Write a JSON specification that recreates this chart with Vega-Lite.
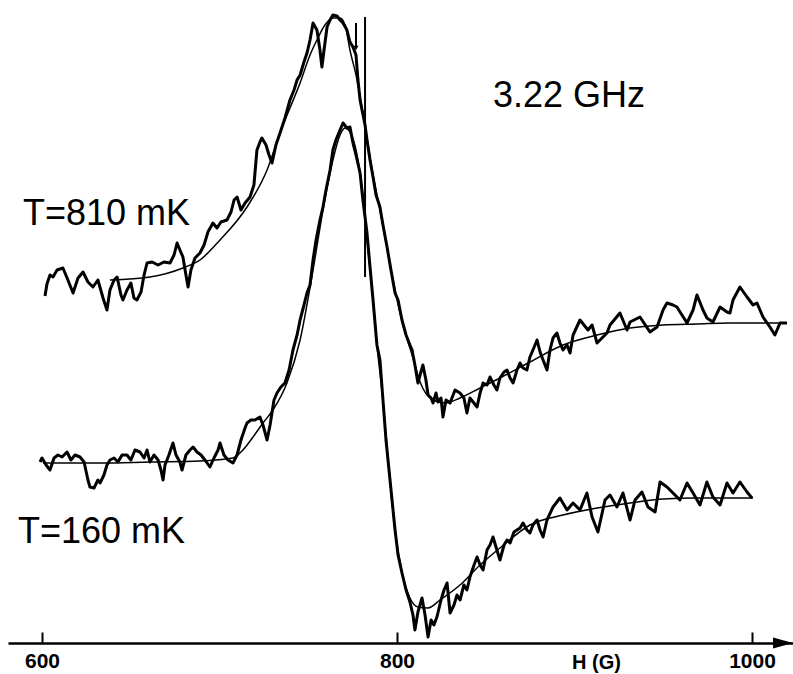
{
  "$schema": "https://vega.github.io/schema/vega-lite/v6.json",
  "width": 785,
  "height": 643,
  "autosize": {"type": "none"},
  "padding": {"left": 8, "right": 0, "top": 0, "bottom": 31},
  "background": "white",
  "config": {"view": {"stroke": null}},
  "datasets": {
    "curves": [
      {"series":"810 mK","kind":"data","H":601.7,"S":3.47},
      {"series":"810 mK","kind":"data","H":602.8,"S":3.59},
      {"series":"810 mK","kind":"data","H":604.5,"S":3.68},
      {"series":"810 mK","kind":"data","H":606.2,"S":3.66},
      {"series":"810 mK","kind":"data","H":608.5,"S":3.73},
      {"series":"810 mK","kind":"data","H":611.8,"S":3.75},
      {"series":"810 mK","kind":"data","H":614.6,"S":3.63},
      {"series":"810 mK","kind":"data","H":617.5,"S":3.50},
      {"series":"810 mK","kind":"data","H":620.3,"S":3.65},
      {"series":"810 mK","kind":"data","H":623.1,"S":3.71},
      {"series":"810 mK","kind":"data","H":625.9,"S":3.61},
      {"series":"810 mK","kind":"data","H":628.7,"S":3.56},
      {"series":"810 mK","kind":"data","H":631.5,"S":3.63},
      {"series":"810 mK","kind":"data","H":634.4,"S":3.45},
      {"series":"810 mK","kind":"data","H":636.6,"S":3.33},
      {"series":"810 mK","kind":"data","H":638.3,"S":3.53},
      {"series":"810 mK","kind":"data","H":640.6,"S":3.63},
      {"series":"810 mK","kind":"data","H":642.3,"S":3.66},
      {"series":"810 mK","kind":"data","H":644.5,"S":3.48},
      {"series":"810 mK","kind":"data","H":645.6,"S":3.43},
      {"series":"810 mK","kind":"data","H":647.9,"S":3.53},
      {"series":"810 mK","kind":"data","H":650.1,"S":3.60},
      {"series":"810 mK","kind":"data","H":651.8,"S":3.45},
      {"series":"810 mK","kind":"data","H":653.5,"S":3.43},
      {"series":"810 mK","kind":"data","H":655.8,"S":3.51},
      {"series":"810 mK","kind":"data","H":657.5,"S":3.68},
      {"series":"810 mK","kind":"data","H":659.2,"S":3.80},
      {"series":"810 mK","kind":"data","H":662.0,"S":3.81},
      {"series":"810 mK","kind":"data","H":665.4,"S":3.78},
      {"series":"810 mK","kind":"data","H":668.7,"S":3.81},
      {"series":"810 mK","kind":"data","H":672.1,"S":3.80},
      {"series":"810 mK","kind":"data","H":674.4,"S":3.88},
      {"series":"810 mK","kind":"data","H":676.1,"S":4.00},
      {"series":"810 mK","kind":"data","H":677.7,"S":3.93},
      {"series":"810 mK","kind":"data","H":679.4,"S":3.86},
      {"series":"810 mK","kind":"data","H":681.1,"S":3.68},
      {"series":"810 mK","kind":"data","H":682.3,"S":3.56},
      {"series":"810 mK","kind":"data","H":683.9,"S":3.73},
      {"series":"810 mK","kind":"data","H":686.2,"S":3.85},
      {"series":"810 mK","kind":"data","H":689.0,"S":3.90},
      {"series":"810 mK","kind":"data","H":691.3,"S":3.98},
      {"series":"810 mK","kind":"data","H":693.5,"S":4.11},
      {"series":"810 mK","kind":"data","H":696.3,"S":4.20},
      {"series":"810 mK","kind":"data","H":698.6,"S":4.15},
      {"series":"810 mK","kind":"data","H":700.8,"S":4.21},
      {"series":"810 mK","kind":"data","H":704.2,"S":4.23},
      {"series":"810 mK","kind":"data","H":706.5,"S":4.31},
      {"series":"810 mK","kind":"data","H":708.2,"S":4.43},
      {"series":"810 mK","kind":"data","H":709.9,"S":4.46},
      {"series":"810 mK","kind":"data","H":712.1,"S":4.33},
      {"series":"810 mK","kind":"data","H":714.4,"S":4.40},
      {"series":"810 mK","kind":"data","H":717.2,"S":4.46},
      {"series":"810 mK","kind":"data","H":719.4,"S":4.58},
      {"series":"810 mK","kind":"data","H":721.1,"S":4.93},
      {"series":"810 mK","kind":"data","H":722.8,"S":5.01},
      {"series":"810 mK","kind":"data","H":723.9,"S":5.05},
      {"series":"810 mK","kind":"data","H":726.2,"S":4.98},
      {"series":"810 mK","kind":"data","H":727.9,"S":4.88},
      {"series":"810 mK","kind":"data","H":729.6,"S":4.80},
      {"series":"810 mK","kind":"data","H":731.8,"S":4.98},
      {"series":"810 mK","kind":"data","H":734.1,"S":5.10},
      {"series":"810 mK","kind":"data","H":736.9,"S":5.25},
      {"series":"810 mK","kind":"data","H":739.7,"S":5.43},
      {"series":"810 mK","kind":"data","H":742.0,"S":5.53},
      {"series":"810 mK","kind":"data","H":743.7,"S":5.63},
      {"series":"810 mK","kind":"data","H":745.4,"S":5.68},
      {"series":"810 mK","kind":"data","H":747.6,"S":5.81},
      {"series":"810 mK","kind":"data","H":749.3,"S":5.90},
      {"series":"810 mK","kind":"data","H":751.0,"S":6.03},
      {"series":"810 mK","kind":"data","H":752.7,"S":6.20},
      {"series":"810 mK","kind":"data","H":754.9,"S":6.13},
      {"series":"810 mK","kind":"data","H":756.6,"S":5.93},
      {"series":"810 mK","kind":"data","H":757.7,"S":5.76},
      {"series":"810 mK","kind":"data","H":758.9,"S":5.93},
      {"series":"810 mK","kind":"data","H":760.6,"S":6.16},
      {"series":"810 mK","kind":"data","H":762.3,"S":6.23},
      {"series":"810 mK","kind":"data","H":763.9,"S":6.28},
      {"series":"810 mK","kind":"data","H":766.2,"S":6.27},
      {"series":"810 mK","kind":"data","H":767.9,"S":6.23},
      {"series":"810 mK","kind":"data","H":769.6,"S":6.20},
      {"series":"810 mK","kind":"data","H":771.8,"S":6.13},
      {"series":"810 mK","kind":"data","H":773.5,"S":6.01},
      {"series":"810 mK","kind":"data","H":775.2,"S":5.96},
      {"series":"810 mK","kind":"data","H":776.9,"S":5.88},
      {"series":"810 mK","kind":"data","H":778.0,"S":5.63},
      {"series":"810 mK","kind":"data","H":779.2,"S":5.43},
      {"series":"810 mK","kind":"data","H":780.3,"S":5.33},
      {"series":"810 mK","kind":"data","H":782.0,"S":5.18},
      {"series":"810 mK","kind":"data","H":783.1,"S":5.03},
      {"series":"810 mK","kind":"data","H":784.8,"S":4.83},
      {"series":"810 mK","kind":"data","H":786.5,"S":4.66},
      {"series":"810 mK","kind":"data","H":788.2,"S":4.48},
      {"series":"810 mK","kind":"data","H":790.4,"S":4.36},
      {"series":"810 mK","kind":"data","H":792.1,"S":4.18},
      {"series":"810 mK","kind":"data","H":794.4,"S":3.96},
      {"series":"810 mK","kind":"data","H":796.6,"S":3.73},
      {"series":"810 mK","kind":"data","H":798.9,"S":3.50},
      {"series":"810 mK","kind":"data","H":800.6,"S":3.43},
      {"series":"810 mK","kind":"data","H":802.8,"S":3.23},
      {"series":"810 mK","kind":"data","H":805.1,"S":3.08},
      {"series":"810 mK","kind":"data","H":807.3,"S":2.98},
      {"series":"810 mK","kind":"data","H":808.5,"S":2.93},
      {"series":"810 mK","kind":"data","H":810.1,"S":2.78},
      {"series":"810 mK","kind":"data","H":811.8,"S":2.60},
      {"series":"810 mK","kind":"data","H":813.0,"S":2.68},
      {"series":"810 mK","kind":"data","H":814.6,"S":2.78},
      {"series":"810 mK","kind":"data","H":816.3,"S":2.63},
      {"series":"810 mK","kind":"data","H":817.5,"S":2.48},
      {"series":"810 mK","kind":"data","H":819.2,"S":2.45},
      {"series":"810 mK","kind":"data","H":820.3,"S":2.40},
      {"series":"810 mK","kind":"data","H":822.0,"S":2.50},
      {"series":"810 mK","kind":"data","H":823.1,"S":2.41},
      {"series":"810 mK","kind":"data","H":824.8,"S":2.45},
      {"series":"810 mK","kind":"data","H":825.9,"S":2.26},
      {"series":"810 mK","kind":"data","H":827.6,"S":2.43},
      {"series":"810 mK","kind":"data","H":829.9,"S":2.40},
      {"series":"810 mK","kind":"data","H":832.7,"S":2.53},
      {"series":"810 mK","kind":"data","H":835.5,"S":2.50},
      {"series":"810 mK","kind":"data","H":837.7,"S":2.45},
      {"series":"810 mK","kind":"data","H":839.4,"S":2.30},
      {"series":"810 mK","kind":"data","H":841.1,"S":2.45},
      {"series":"810 mK","kind":"data","H":845.1,"S":2.36},
      {"series":"810 mK","kind":"data","H":846.8,"S":2.50},
      {"series":"810 mK","kind":"data","H":848.5,"S":2.60},
      {"series":"810 mK","kind":"data","H":850.7,"S":2.58},
      {"series":"810 mK","kind":"data","H":852.4,"S":2.66},
      {"series":"810 mK","kind":"data","H":854.6,"S":2.58},
      {"series":"810 mK","kind":"data","H":856.3,"S":2.53},
      {"series":"810 mK","kind":"data","H":858.0,"S":2.65},
      {"series":"810 mK","kind":"data","H":860.3,"S":2.71},
      {"series":"810 mK","kind":"data","H":862.0,"S":2.73},
      {"series":"810 mK","kind":"data","H":863.7,"S":2.65},
      {"series":"810 mK","kind":"data","H":865.4,"S":2.60},
      {"series":"810 mK","kind":"data","H":867.6,"S":2.73},
      {"series":"810 mK","kind":"data","H":869.3,"S":2.80},
      {"series":"810 mK","kind":"data","H":871.0,"S":2.75},
      {"series":"810 mK","kind":"data","H":873.2,"S":2.73},
      {"series":"810 mK","kind":"data","H":874.9,"S":2.86},
      {"series":"810 mK","kind":"data","H":876.6,"S":2.93},
      {"series":"810 mK","kind":"data","H":878.9,"S":3.03},
      {"series":"810 mK","kind":"data","H":880.6,"S":2.91},
      {"series":"810 mK","kind":"data","H":882.3,"S":2.83},
      {"series":"810 mK","kind":"data","H":884.5,"S":2.73},
      {"series":"810 mK","kind":"data","H":886.2,"S":2.93},
      {"series":"810 mK","kind":"data","H":887.9,"S":3.05},
      {"series":"810 mK","kind":"data","H":890.1,"S":3.10},
      {"series":"810 mK","kind":"data","H":891.8,"S":3.00},
      {"series":"810 mK","kind":"data","H":893.5,"S":2.93},
      {"series":"810 mK","kind":"data","H":895.8,"S":2.98},
      {"series":"810 mK","kind":"data","H":897.5,"S":2.90},
      {"series":"810 mK","kind":"data","H":899.2,"S":3.08},
      {"series":"810 mK","kind":"data","H":903.1,"S":3.23},
      {"series":"810 mK","kind":"data","H":907.6,"S":3.13},
      {"series":"810 mK","kind":"data","H":909.9,"S":3.18},
      {"series":"810 mK","kind":"data","H":912.7,"S":3.00},
      {"series":"810 mK","kind":"data","H":918.3,"S":3.10},
      {"series":"810 mK","kind":"data","H":920.0,"S":3.18},
      {"series":"810 mK","kind":"data","H":925.6,"S":3.30},
      {"series":"810 mK","kind":"data","H":929.6,"S":3.13},
      {"series":"810 mK","kind":"data","H":931.3,"S":3.21},
      {"series":"810 mK","kind":"data","H":936.9,"S":3.26},
      {"series":"810 mK","kind":"data","H":942.5,"S":3.11},
      {"series":"810 mK","kind":"data","H":946.5,"S":3.16},
      {"series":"810 mK","kind":"data","H":949.9,"S":3.33},
      {"series":"810 mK","kind":"data","H":952.1,"S":3.40},
      {"series":"810 mK","kind":"data","H":955.5,"S":3.38},
      {"series":"810 mK","kind":"data","H":957.7,"S":3.36},
      {"series":"810 mK","kind":"data","H":963.4,"S":3.20},
      {"series":"810 mK","kind":"data","H":966.8,"S":3.33},
      {"series":"810 mK","kind":"data","H":969.0,"S":3.48},
      {"series":"810 mK","kind":"data","H":972.4,"S":3.33},
      {"series":"810 mK","kind":"data","H":974.6,"S":3.25},
      {"series":"810 mK","kind":"data","H":978.0,"S":3.21},
      {"series":"810 mK","kind":"data","H":982.0,"S":3.36},
      {"series":"810 mK","kind":"data","H":985.9,"S":3.31},
      {"series":"810 mK","kind":"data","H":987.6,"S":3.30},
      {"series":"810 mK","kind":"data","H":989.3,"S":3.43},
      {"series":"810 mK","kind":"data","H":993.2,"S":3.56},
      {"series":"810 mK","kind":"data","H":997.2,"S":3.46},
      {"series":"810 mK","kind":"data","H":1000.6,"S":3.38},
      {"series":"810 mK","kind":"data","H":1002.8,"S":3.40},
      {"series":"810 mK","kind":"data","H":1006.2,"S":3.26},
      {"series":"810 mK","kind":"data","H":1010.1,"S":3.16},
      {"series":"810 mK","kind":"data","H":1012.9,"S":3.08},
      {"series":"810 mK","kind":"data","H":1015.8,"S":3.20},
      {"series":"810 mK","kind":"data","H":1019.7,"S":3.20},

      {"series":"810 mK","kind":"fit","H":638.3,"S":3.63},
      {"series":"810 mK","kind":"fit","H":660.8,"S":3.66},
      {"series":"810 mK","kind":"fit","H":679.4,"S":3.75},
      {"series":"810 mK","kind":"fit","H":689.0,"S":3.83},
      {"series":"810 mK","kind":"fit","H":700.3,"S":4.03},
      {"series":"810 mK","kind":"fit","H":715.5,"S":4.36},
      {"series":"810 mK","kind":"fit","H":726.8,"S":4.73},
      {"series":"810 mK","kind":"fit","H":734.1,"S":5.10},
      {"series":"810 mK","kind":"fit","H":739.7,"S":5.35},
      {"series":"810 mK","kind":"fit","H":745.4,"S":5.60},
      {"series":"810 mK","kind":"fit","H":751.0,"S":5.88},
      {"series":"810 mK","kind":"fit","H":754.9,"S":6.03},
      {"series":"810 mK","kind":"fit","H":759.4,"S":6.18},
      {"series":"810 mK","kind":"fit","H":763.9,"S":6.25},
      {"series":"810 mK","kind":"fit","H":767.9,"S":6.25},
      {"series":"810 mK","kind":"fit","H":770.7,"S":6.18},
      {"series":"810 mK","kind":"fit","H":773.5,"S":5.93},
      {"series":"810 mK","kind":"fit","H":777.5,"S":5.63},
      {"series":"810 mK","kind":"fit","H":780.3,"S":5.35},
      {"series":"810 mK","kind":"fit","H":783.1,"S":5.05},
      {"series":"810 mK","kind":"fit","H":786.5,"S":4.68},
      {"series":"810 mK","kind":"fit","H":790.4,"S":4.33},
      {"series":"810 mK","kind":"fit","H":794.4,"S":3.95},
      {"series":"810 mK","kind":"fit","H":798.9,"S":3.53},
      {"series":"810 mK","kind":"fit","H":803.4,"S":3.18},
      {"series":"810 mK","kind":"fit","H":808.5,"S":2.88},
      {"series":"810 mK","kind":"fit","H":813.0,"S":2.61},
      {"series":"810 mK","kind":"fit","H":820.3,"S":2.43},
      {"series":"810 mK","kind":"fit","H":827.0,"S":2.40},
      {"series":"810 mK","kind":"fit","H":835.5,"S":2.45},
      {"series":"810 mK","kind":"fit","H":846.8,"S":2.55},
      {"series":"810 mK","kind":"fit","H":858.0,"S":2.65},
      {"series":"810 mK","kind":"fit","H":874.9,"S":2.81},
      {"series":"810 mK","kind":"fit","H":893.5,"S":2.98},
      {"series":"810 mK","kind":"fit","H":912.7,"S":3.08},
      {"series":"810 mK","kind":"fit","H":931.3,"S":3.15},
      {"series":"810 mK","kind":"fit","H":949.9,"S":3.18},
      {"series":"810 mK","kind":"fit","H":969.0,"S":3.19},
      {"series":"810 mK","kind":"fit","H":987.6,"S":3.20},
      {"series":"810 mK","kind":"fit","H":1019.7,"S":3.20},

      {"series":"160 mK","kind":"data","H":598.9,"S":1.81},
      {"series":"160 mK","kind":"data","H":600.0,"S":1.85},
      {"series":"160 mK","kind":"data","H":602.3,"S":1.78},
      {"series":"160 mK","kind":"data","H":604.5,"S":1.73},
      {"series":"160 mK","kind":"data","H":606.8,"S":1.85},
      {"series":"160 mK","kind":"data","H":609.0,"S":1.88},
      {"series":"160 mK","kind":"data","H":611.3,"S":1.86},
      {"series":"160 mK","kind":"data","H":614.1,"S":1.91},
      {"series":"160 mK","kind":"data","H":616.3,"S":1.83},
      {"series":"160 mK","kind":"data","H":618.6,"S":1.88},
      {"series":"160 mK","kind":"data","H":621.4,"S":1.86},
      {"series":"160 mK","kind":"data","H":623.7,"S":1.81},
      {"series":"160 mK","kind":"data","H":625.9,"S":1.63},
      {"series":"160 mK","kind":"data","H":627.0,"S":1.56},
      {"series":"160 mK","kind":"data","H":629.3,"S":1.55},
      {"series":"160 mK","kind":"data","H":631.5,"S":1.63},
      {"series":"160 mK","kind":"data","H":632.7,"S":1.60},
      {"series":"160 mK","kind":"data","H":634.9,"S":1.68},
      {"series":"160 mK","kind":"data","H":636.6,"S":1.78},
      {"series":"160 mK","kind":"data","H":638.3,"S":1.83},
      {"series":"160 mK","kind":"data","H":640.6,"S":1.85},
      {"series":"160 mK","kind":"data","H":642.8,"S":1.81},
      {"series":"160 mK","kind":"data","H":645.1,"S":1.88},
      {"series":"160 mK","kind":"data","H":647.9,"S":1.88},
      {"series":"160 mK","kind":"data","H":650.1,"S":1.83},
      {"series":"160 mK","kind":"data","H":652.4,"S":1.93},
      {"series":"160 mK","kind":"data","H":655.2,"S":1.91},
      {"series":"160 mK","kind":"data","H":657.5,"S":1.85},
      {"series":"160 mK","kind":"data","H":659.2,"S":1.93},
      {"series":"160 mK","kind":"data","H":660.8,"S":1.81},
      {"series":"160 mK","kind":"data","H":663.1,"S":1.88},
      {"series":"160 mK","kind":"data","H":665.4,"S":1.83},
      {"series":"160 mK","kind":"data","H":667.0,"S":1.73},
      {"series":"160 mK","kind":"data","H":668.2,"S":1.63},
      {"series":"160 mK","kind":"data","H":669.3,"S":1.78},
      {"series":"160 mK","kind":"data","H":671.5,"S":1.88},
      {"series":"160 mK","kind":"data","H":673.8,"S":2.00},
      {"series":"160 mK","kind":"data","H":675.5,"S":1.88},
      {"series":"160 mK","kind":"data","H":677.7,"S":1.81},
      {"series":"160 mK","kind":"data","H":678.9,"S":1.73},
      {"series":"160 mK","kind":"data","H":681.1,"S":1.88},
      {"series":"160 mK","kind":"data","H":683.4,"S":1.93},
      {"series":"160 mK","kind":"data","H":685.1,"S":1.96},
      {"series":"160 mK","kind":"data","H":687.3,"S":1.91},
      {"series":"160 mK","kind":"data","H":689.6,"S":1.88},
      {"series":"160 mK","kind":"data","H":691.8,"S":1.83},
      {"series":"160 mK","kind":"data","H":694.6,"S":1.76},
      {"series":"160 mK","kind":"data","H":696.9,"S":1.85},
      {"series":"160 mK","kind":"data","H":699.2,"S":1.93},
      {"series":"160 mK","kind":"data","H":700.3,"S":2.00},
      {"series":"160 mK","kind":"data","H":702.5,"S":1.88},
      {"series":"160 mK","kind":"data","H":704.8,"S":1.83},
      {"series":"160 mK","kind":"data","H":707.6,"S":1.80},
      {"series":"160 mK","kind":"data","H":709.9,"S":1.88},
      {"series":"160 mK","kind":"data","H":712.1,"S":2.03},
      {"series":"160 mK","kind":"data","H":714.4,"S":2.15},
      {"series":"160 mK","kind":"data","H":715.5,"S":2.20},
      {"series":"160 mK","kind":"data","H":717.7,"S":2.23},
      {"series":"160 mK","kind":"data","H":720.0,"S":2.23},
      {"series":"160 mK","kind":"data","H":722.8,"S":2.26},
      {"series":"160 mK","kind":"data","H":724.5,"S":2.18},
      {"series":"160 mK","kind":"data","H":726.8,"S":2.03},
      {"series":"160 mK","kind":"data","H":728.5,"S":2.18},
      {"series":"160 mK","kind":"data","H":730.7,"S":2.43},
      {"series":"160 mK","kind":"data","H":732.4,"S":2.50},
      {"series":"160 mK","kind":"data","H":734.6,"S":2.56},
      {"series":"160 mK","kind":"data","H":736.9,"S":2.60},
      {"series":"160 mK","kind":"data","H":739.2,"S":2.73},
      {"series":"160 mK","kind":"data","H":741.4,"S":2.93},
      {"series":"160 mK","kind":"data","H":743.7,"S":3.08},
      {"series":"160 mK","kind":"data","H":745.4,"S":3.23},
      {"series":"160 mK","kind":"data","H":747.6,"S":3.38},
      {"series":"160 mK","kind":"data","H":749.3,"S":3.50},
      {"series":"160 mK","kind":"data","H":751.0,"S":3.58},
      {"series":"160 mK","kind":"data","H":752.7,"S":3.83},
      {"series":"160 mK","kind":"data","H":754.4,"S":4.03},
      {"series":"160 mK","kind":"data","H":756.6,"S":4.23},
      {"series":"160 mK","kind":"data","H":758.3,"S":4.36},
      {"series":"160 mK","kind":"data","H":760.0,"S":4.53},
      {"series":"160 mK","kind":"data","H":762.3,"S":4.73},
      {"series":"160 mK","kind":"data","H":763.9,"S":4.93},
      {"series":"160 mK","kind":"data","H":765.6,"S":5.03},
      {"series":"160 mK","kind":"data","H":767.9,"S":5.13},
      {"series":"160 mK","kind":"data","H":769.6,"S":5.20},
      {"series":"160 mK","kind":"data","H":771.8,"S":5.15},
      {"series":"160 mK","kind":"data","H":773.5,"S":5.16},
      {"series":"160 mK","kind":"data","H":775.2,"S":5.00},
      {"series":"160 mK","kind":"data","H":776.9,"S":4.88},
      {"series":"160 mK","kind":"data","H":779.2,"S":4.70},
      {"series":"160 mK","kind":"data","H":780.8,"S":4.43},
      {"series":"160 mK","kind":"data","H":783.1,"S":4.10},
      {"series":"160 mK","kind":"data","H":784.8,"S":3.76},
      {"series":"160 mK","kind":"data","H":786.5,"S":3.43},
      {"series":"160 mK","kind":"data","H":788.7,"S":2.98},
      {"series":"160 mK","kind":"data","H":790.4,"S":2.83},
      {"series":"160 mK","kind":"data","H":792.1,"S":2.43},
      {"series":"160 mK","kind":"data","H":793.8,"S":2.03},
      {"series":"160 mK","kind":"data","H":795.5,"S":1.73},
      {"series":"160 mK","kind":"data","H":797.2,"S":1.43},
      {"series":"160 mK","kind":"data","H":798.9,"S":1.13},
      {"series":"160 mK","kind":"data","H":800.6,"S":0.88},
      {"series":"160 mK","kind":"data","H":802.8,"S":0.70},
      {"series":"160 mK","kind":"data","H":805.1,"S":0.53},
      {"series":"160 mK","kind":"data","H":807.3,"S":0.41},
      {"series":"160 mK","kind":"data","H":809.0,"S":0.28},
      {"series":"160 mK","kind":"data","H":810.1,"S":0.13},
      {"series":"160 mK","kind":"data","H":811.8,"S":0.31},
      {"series":"160 mK","kind":"data","H":814.1,"S":0.45},
      {"series":"160 mK","kind":"data","H":815.8,"S":0.28},
      {"series":"160 mK","kind":"data","H":817.5,"S":0.06},
      {"series":"160 mK","kind":"data","H":819.2,"S":0.23},
      {"series":"160 mK","kind":"data","H":820.8,"S":0.18},
      {"series":"160 mK","kind":"data","H":822.5,"S":0.26},
      {"series":"160 mK","kind":"data","H":824.8,"S":0.43},
      {"series":"160 mK","kind":"data","H":826.5,"S":0.53},
      {"series":"160 mK","kind":"data","H":828.2,"S":0.60},
      {"series":"160 mK","kind":"data","H":829.9,"S":0.30},
      {"series":"160 mK","kind":"data","H":832.1,"S":0.38},
      {"series":"160 mK","kind":"data","H":833.8,"S":0.48},
      {"series":"160 mK","kind":"data","H":835.5,"S":0.43},
      {"series":"160 mK","kind":"data","H":837.7,"S":0.58},
      {"series":"160 mK","kind":"data","H":839.4,"S":0.53},
      {"series":"160 mK","kind":"data","H":841.1,"S":0.66},
      {"series":"160 mK","kind":"data","H":843.4,"S":0.78},
      {"series":"160 mK","kind":"data","H":845.1,"S":0.86},
      {"series":"160 mK","kind":"data","H":846.8,"S":0.78},
      {"series":"160 mK","kind":"data","H":848.5,"S":0.73},
      {"series":"160 mK","kind":"data","H":850.7,"S":0.93},
      {"series":"160 mK","kind":"data","H":852.4,"S":0.98},
      {"series":"160 mK","kind":"data","H":854.1,"S":1.06},
      {"series":"160 mK","kind":"data","H":856.3,"S":0.93},
      {"series":"160 mK","kind":"data","H":858.0,"S":0.83},
      {"series":"160 mK","kind":"data","H":860.3,"S":0.98},
      {"series":"160 mK","kind":"data","H":862.0,"S":1.03},
      {"series":"160 mK","kind":"data","H":863.7,"S":1.00},
      {"series":"160 mK","kind":"data","H":865.9,"S":1.11},
      {"series":"160 mK","kind":"data","H":867.6,"S":1.13},
      {"series":"160 mK","kind":"data","H":869.3,"S":1.15},
      {"series":"160 mK","kind":"data","H":871.0,"S":1.20},
      {"series":"160 mK","kind":"data","H":873.2,"S":1.13},
      {"series":"160 mK","kind":"data","H":874.9,"S":1.10},
      {"series":"160 mK","kind":"data","H":876.6,"S":1.18},
      {"series":"160 mK","kind":"data","H":878.9,"S":1.23},
      {"series":"160 mK","kind":"data","H":880.6,"S":1.13},
      {"series":"160 mK","kind":"data","H":882.3,"S":1.06},
      {"series":"160 mK","kind":"data","H":884.5,"S":1.23},
      {"series":"160 mK","kind":"data","H":887.9,"S":1.36},
      {"series":"160 mK","kind":"data","H":891.8,"S":1.45},
      {"series":"160 mK","kind":"data","H":895.8,"S":1.33},
      {"series":"160 mK","kind":"data","H":899.2,"S":1.40},
      {"series":"160 mK","kind":"data","H":903.1,"S":1.33},
      {"series":"160 mK","kind":"data","H":907.0,"S":1.50},
      {"series":"160 mK","kind":"data","H":909.9,"S":1.26},
      {"series":"160 mK","kind":"data","H":913.2,"S":1.11},
      {"series":"160 mK","kind":"data","H":917.2,"S":1.43},
      {"series":"160 mK","kind":"data","H":920.0,"S":1.48},
      {"series":"160 mK","kind":"data","H":923.9,"S":1.36},
      {"series":"160 mK","kind":"data","H":927.3,"S":1.50},
      {"series":"160 mK","kind":"data","H":931.3,"S":1.23},
      {"series":"160 mK","kind":"data","H":934.1,"S":1.43},
      {"series":"160 mK","kind":"data","H":938.0,"S":1.51},
      {"series":"160 mK","kind":"data","H":941.4,"S":1.36},
      {"series":"160 mK","kind":"data","H":945.4,"S":1.31},
      {"series":"160 mK","kind":"data","H":948.2,"S":1.61},
      {"series":"160 mK","kind":"data","H":952.1,"S":1.56},
      {"series":"160 mK","kind":"data","H":955.5,"S":1.50},
      {"series":"160 mK","kind":"data","H":959.4,"S":1.43},
      {"series":"160 mK","kind":"data","H":963.4,"S":1.60},
      {"series":"160 mK","kind":"data","H":966.8,"S":1.50},
      {"series":"160 mK","kind":"data","H":970.7,"S":1.38},
      {"series":"160 mK","kind":"data","H":974.6,"S":1.61},
      {"series":"160 mK","kind":"data","H":978.0,"S":1.46},
      {"series":"160 mK","kind":"data","H":982.0,"S":1.38},
      {"series":"160 mK","kind":"data","H":985.9,"S":1.60},
      {"series":"160 mK","kind":"data","H":989.3,"S":1.50},
      {"series":"160 mK","kind":"data","H":993.2,"S":1.61},
      {"series":"160 mK","kind":"data","H":997.2,"S":1.51},
      {"series":"160 mK","kind":"data","H":1000.0,"S":1.45},

      {"series":"160 mK","kind":"fit","H":600.6,"S":1.80},
      {"series":"160 mK","kind":"fit","H":632.7,"S":1.80},
      {"series":"160 mK","kind":"fit","H":660.8,"S":1.81},
      {"series":"160 mK","kind":"fit","H":689.0,"S":1.82},
      {"series":"160 mK","kind":"fit","H":707.6,"S":1.85},
      {"series":"160 mK","kind":"fit","H":713.2,"S":1.93},
      {"series":"160 mK","kind":"fit","H":718.9,"S":2.06},
      {"series":"160 mK","kind":"fit","H":724.5,"S":2.20},
      {"series":"160 mK","kind":"fit","H":730.1,"S":2.33},
      {"series":"160 mK","kind":"fit","H":738.0,"S":2.60},
      {"series":"160 mK","kind":"fit","H":745.4,"S":3.03},
      {"series":"160 mK","kind":"fit","H":752.7,"S":3.73},
      {"series":"160 mK","kind":"fit","H":758.3,"S":4.33},
      {"series":"160 mK","kind":"fit","H":763.9,"S":4.83},
      {"series":"160 mK","kind":"fit","H":767.9,"S":5.08},
      {"series":"160 mK","kind":"fit","H":770.7,"S":5.15},
      {"series":"160 mK","kind":"fit","H":773.5,"S":5.11},
      {"series":"160 mK","kind":"fit","H":776.9,"S":4.93},
      {"series":"160 mK","kind":"fit","H":780.8,"S":4.48},
      {"series":"160 mK","kind":"fit","H":783.7,"S":3.93},
      {"series":"160 mK","kind":"fit","H":786.5,"S":3.43},
      {"series":"160 mK","kind":"fit","H":788.7,"S":2.98},
      {"series":"160 mK","kind":"fit","H":792.1,"S":2.43},
      {"series":"160 mK","kind":"fit","H":795.5,"S":1.73},
      {"series":"160 mK","kind":"fit","H":798.9,"S":1.13},
      {"series":"160 mK","kind":"fit","H":802.8,"S":0.71},
      {"series":"160 mK","kind":"fit","H":807.3,"S":0.45},
      {"series":"160 mK","kind":"fit","H":811.8,"S":0.36},
      {"series":"160 mK","kind":"fit","H":817.5,"S":0.35},
      {"series":"160 mK","kind":"fit","H":824.2,"S":0.43},
      {"series":"160 mK","kind":"fit","H":835.5,"S":0.58},
      {"series":"160 mK","kind":"fit","H":846.8,"S":0.78},
      {"series":"160 mK","kind":"fit","H":858.0,"S":0.95},
      {"series":"160 mK","kind":"fit","H":874.9,"S":1.18},
      {"series":"160 mK","kind":"fit","H":893.5,"S":1.28},
      {"series":"160 mK","kind":"fit","H":912.7,"S":1.35},
      {"series":"160 mK","kind":"fit","H":931.3,"S":1.40},
      {"series":"160 mK","kind":"fit","H":949.9,"S":1.44},
      {"series":"160 mK","kind":"fit","H":969.0,"S":1.45},
      {"series":"160 mK","kind":"fit","H":1000.6,"S":1.45}
    ],
    "markers": [
      {"H": 782.0, "S": 6.26, "S2": 3.66},
      {"H": 776.9, "S": 6.20, "S2": 5.95}
    ],
    "heads": [
      {"H": 776.9, "S": 5.95}
    ],
    "axisArrow": [
      {"H": 1017.5, "S": 0}
    ],
    "labels": [
      {"label": "T=810 mK", "H": 589.3, "S": 4.18},
      {"label": "T=160 mK", "H": 586.5, "S": 1.00},
      {"label": "3.22 GHz", "H": 854.1, "S": 5.36}
    ]
  },
  "encoding": {
    "x": {
      "field": "H",
      "type": "quantitative",
      "scale": {"domain": [580.85, 1023.1], "nice": false, "zero": false},
      "axis": {
        "values": [600, 800, 1000],
        "format": "d",
        "grid": false,
        "domainColor": "black",
        "domainWidth": 2.5,
        "tickColor": "black",
        "tickWidth": 2,
        "tickSize": -11,
        "labelFont": "Liberation Sans",
        "labelFontSize": 21,
        "labelFontWeight": "bold",
        "labelColor": "black",
        "labelPadding": 18,
        "labelFlush": false,
        "title": "H (G)",
        "titleFont": "Liberation Sans",
        "titleFontSize": 20,
        "titleFontWeight": "bold",
        "titleColor": "black",
        "titleAnchor": null,
        "titleAlign": "center",
        "titleBaseline": "alphabetic",
        "titleX": 588,
        "titleY": 25
      }
    },
    "y": {
      "field": "S",
      "type": "quantitative",
      "scale": {"domain": [0, 6.43], "nice": false, "zero": false},
      "axis": null
    }
  },
  "layer": [
    {
      "data": {"name": "curves"},
      "transform": [{"filter": "datum.kind === 'data'"}],
      "mark": {"type": "line", "color": "black", "strokeWidth": 3, "strokeJoin": "round", "clip": false},
      "encoding": {"detail": {"field": "series"}}
    },
    {
      "data": {"name": "curves"},
      "transform": [{"filter": "datum.kind === 'fit'"}],
      "mark": {"type": "line", "color": "black", "strokeWidth": 1.5, "interpolate": "monotone", "clip": false},
      "encoding": {"detail": {"field": "series"}}
    },
    {
      "data": {"name": "markers"},
      "mark": {"type": "rule", "color": "black", "strokeWidth": 2},
      "encoding": {"y2": {"field": "S2"}}
    },
    {
      "data": {"name": "heads"},
      "mark": {"type": "point", "shape": "triangle-down", "filled": true, "color": "black", "size": 25, "opacity": 1},
      "encoding": {}
    },
    {
      "data": {"name": "axisArrow"},
      "mark": {"type": "point", "shape": "M-1,-0.55L1,0L-1,0.55Z", "filled": true, "color": "black", "size": 400, "opacity": 1, "clip": false},
      "encoding": {}
    },
    {
      "data": {"name": "labels"},
      "mark": {"type": "text", "align": "left", "baseline": "alphabetic", "font": "Liberation Sans", "fontSize": 36, "color": "black"},
      "encoding": {"text": {"field": "label"}}
    }
  ]
}
